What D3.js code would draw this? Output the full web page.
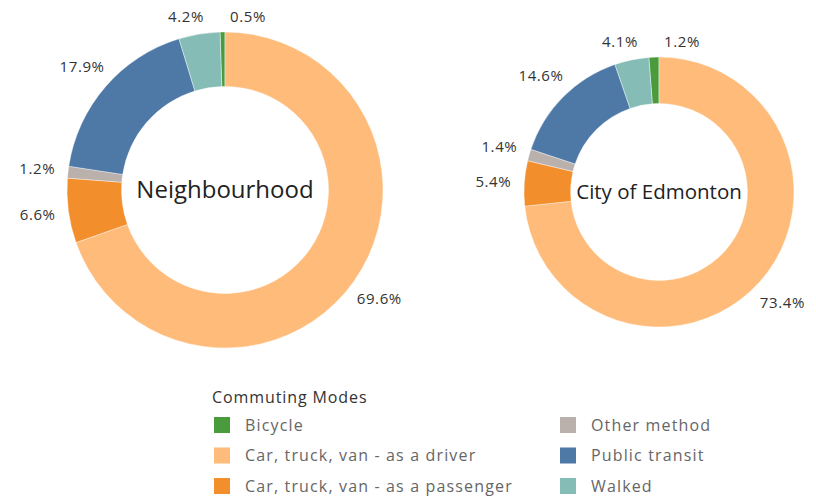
<!DOCTYPE html>
<html>
<head>
<meta charset="utf-8">
<script src="https://cdn.jsdelivr.net/npm/d3@7"></script>
<style>
  body { margin: 0; background: #fff; }
  svg text { font-family: "Open Sans", "Noto Sans", sans-serif; }
</style>
</head>
<body>
<div class="chart-area"></div>
<script>
// commuting modes, in legend order
const modes = [
    "Bicycle",
    "Car, truck, van - as a driver",
    "Car, truck, van - as a passenger",
    "Other method",
    "Public transit",
    "Walked"
];
const modeColors = ["#4a9b3c", "#ffbb79", "#f28e2b", "#bab0ac", "#4e79a7", "#86bcb6"];

// order the slices run round the ring, clockwise from 12 o'clock
const sliceOrder = [
    "Car, truck, van - as a driver",
    "Car, truck, van - as a passenger",
    "Other method",
    "Public transit",
    "Walked",
    "Bicycle"
];

// shares (%) per mode, legend order
const neighbourhoodShare = [0.5, 69.6, 6.6, 1.2, 17.9, 4.2];
const edmontonShare = [1.2, 73.4, 5.4, 1.4, 14.6, 4.1];

const donutTitles = ["Neighbourhood", "City of Edmonton"];
const legendTitle = "Commuting Modes";

// ---- sizes ----
const svgWidth = 816;
const svgHeight = 499;

const donutLayout = [
    { cx: 225, cy: 190, r: 158, titleSize: 24 },
    { cx: 659, cy: 192, r: 135, titleSize: 20.5 }
];
const innerRatio = 0.655;

const color = d3.scaleOrdinal().domain(modes).range(modeColors);

const svg = d3.select(".chart-area").append("svg")
    .attr("width", svgWidth)
    .attr("height", svgHeight);

svg.append("rect")
    .attr("width", svgWidth)
    .attr("height", svgHeight)
    .attr("fill", "#fff");

const pie = d3.pie()
    .value(d => d.value)
    .sort((a, b) => sliceOrder.indexOf(a.mode) - sliceOrder.indexOf(b.mode));

function drawDonut(values, title, lay) {
    const data = modes.map((m, i) => ({ mode: m, value: values[i] }));
    const arcs = pie(data);

    const arc = d3.arc()
        .innerRadius(lay.r * innerRatio)
        .outerRadius(lay.r);

    const g = svg.append("g")
        .attr("transform", `translate(${lay.cx}, ${lay.cy})`);

    g.selectAll("path")
        .data(arcs)
        .join("path")
        .attr("d", arc)
        .attr("fill", d => color(d.data.mode))
        .attr("stroke", "#fff")
        .attr("stroke-width", 0.4);

    // centre title
    g.append("text")
        .attr("text-anchor", "middle")
        .attr("dy", "0.35em")
        .attr("fill", "#222")
        .style("font-size", lay.titleSize + "px")
        .text(title);

    // percent labels, outside the ring
    const labelR = lay.r + 31;
    const yMin = -lay.r - 15;
    const labels = arcs.map(a => {
        const mid = (a.startAngle + a.endAngle) / 2;
        let x = Math.sin(mid) * labelR;
        let y = -Math.cos(mid) * labelR;
        const clamped = y < yMin;
        if (clamped) y = yMin;
        return { x, y, clamped, text: d3.format(".1f")(a.data.value) + "%" };
    });

    const txt = g.selectAll("text.pct")
        .data(labels)
        .join("text")
        .attr("class", "pct")
        .attr("text-anchor", "middle")
        .attr("dy", "0.35em")
        .attr("fill", "#333")
        .style("font-size", "15px")
        .style("letter-spacing", "0.6px")
        .text(d => d.text);

    txt.each(function (d) { d.w = this.getComputedTextLength(); });

    // labels squeezed against the top: rightmost starts just past 12 o'clock,
    // the rest are pushed left of it
    const top = labels.filter(l => l.clamped).sort((a, b) => a.x - b.x);
    let leftEdge = null;
    for (let i = top.length - 1; i >= 0; i--) {
        const l = top[i];
        if (leftEdge === null) {
            l.x = Math.max(l.x, 5 + l.w / 2);
        } else {
            l.x = Math.min(l.x, leftEdge - 26 - l.w / 2);
        }
        leftEdge = l.x - l.w / 2;
    }

    txt.attr("x", d => d.x)
        .attr("y", d => d.y);
}

drawDonut(neighbourhoodShare, donutTitles[0], donutLayout[0]);
drawDonut(edmontonShare, donutTitles[1], donutLayout[1]);

// ---- legend ----
const legend = svg.append("g")
    .attr("transform", "translate(212, 0)");

legend.append("text")
    .attr("x", 0)
    .attr("y", 403)
    .attr("fill", "#333")
    .style("font-size", "16px")
    .style("letter-spacing", "0.9px")
    .text(legendTitle);

const rowY = d3.scalePoint().domain([0, 1, 2]).range([425, 486]);
const colX = d3.scalePoint().domain([0, 1]).range([2, 348]);

const items = legend.selectAll("g.item")
    .data(modes)
    .join("g")
    .attr("class", "item")
    .attr("transform", (d, i) => `translate(${colX(Math.floor(i / 3))}, ${rowY(i % 3)})`);

items.append("rect")
    .attr("x", 0)
    .attr("y", -8)
    .attr("width", 16)
    .attr("height", 16)
    .attr("fill", d => color(d));

items.append("text")
    .attr("x", 31)
    .attr("dy", "0.35em")
    .attr("fill", "#666")
    .style("font-size", "16px")
    .style("letter-spacing", "1.15px")
    .text(d => d);
</script>
</body>
</html>
